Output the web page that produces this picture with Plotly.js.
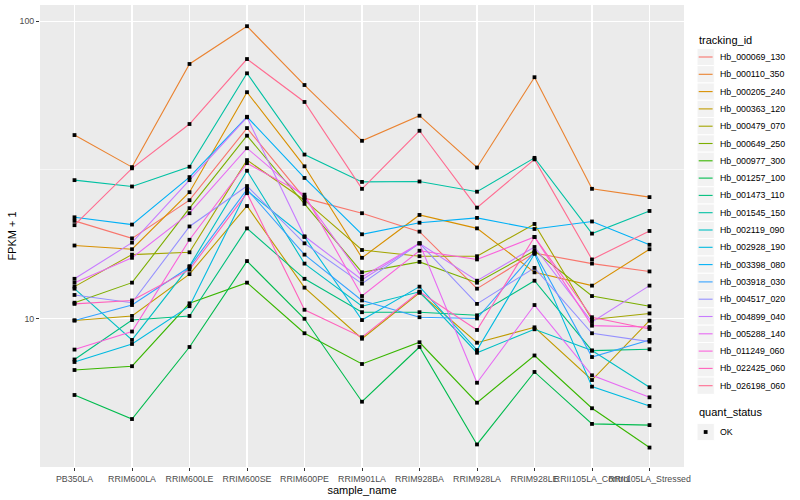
<!DOCTYPE html>
<html>
<head>
<meta charset="utf-8">
<script src="https://cdn.plot.ly/plotly-3.0.1.min.js"></script>
<style>html,body{margin:0;padding:0;background:#fff;}#chart{width:800px;height:500px;}</style>
</head>
<body>
<div id="chart"></div>
<script>
const categories = ['PB350LA','RRIM600LA','RRIM600LE','RRIM600SE','RRIM600PE','RRIM901LA','RRIM928BA','RRIM928LA','RRIM928LE','RRII105LA_Control','RRII105LA_Stressed'];

const trackingIds = ['Hb_000069_130','Hb_000110_350','Hb_000205_240','Hb_000363_120','Hb_000479_070','Hb_000649_250','Hb_000977_300','Hb_001257_100','Hb_001473_110','Hb_001545_150','Hb_002119_090','Hb_002928_190','Hb_003398_080','Hb_003918_030','Hb_004517_020','Hb_004899_040','Hb_005288_140','Hb_011249_060','Hb_022425_060','Hb_026198_060'];

const seriesColors = ['#F8766D','#EA8331','#D89000','#C09B00','#A3A500','#7CAE00','#39B600','#00BB4E','#00BF7D','#00C1A3','#00BFC4','#00BAE0','#00B0F6','#35A2FF','#9590FF','#C77CFF','#E76BF3','#FA62DB','#FF62BC','#FF6C91'];

const quantStatus = ['OK'];

// FPKM + 1 values per tracking id, in category order
const hb_000069_130 = [21.3, 18.6, 25.0, 43.7, 25.4, 22.6, 19.6, 12.6, 16.6, 15.3, 14.4];
const hb_000110_350 = [41.4, 32.3, 71.8, 96.2, 61.0, 39.6, 48.1, 32.2, 64.8, 27.3, 25.6];
const hb_000205_240 = [17.6, 17.1, 26.6, 57.7, 32.5, 16.0, 22.3, 20.1, 14.3, 12.9, 17.1];
const hb_000363_120 = [9.85, 10.2, 14.1, 23.9, 12.7, 8.55, 12.2, 8.29, 9.34, 6.21, 9.83];
const hb_000479_070 = [12.8, 16.4, 16.7, 34.1, 25.0, 17.0, 16.2, 16.2, 20.8, 9.92, 10.4];
const hb_000649_250 = [11.3, 13.2, 23.5, 41.2, 24.3, 14.3, 15.5, 13.2, 16.9, 11.9, 11.0];
const hb_000977_300 = [6.71, 6.91, 11.25, 13.2, 8.92, 7.03, 8.32, 5.21, 7.51, 4.99, 3.68];
const hb_001257_100 = [5.53, 4.59, 8.02, 15.6, 9.98, 5.25, 8.02, 3.77, 6.61, 4.42, 4.38];
const hb_001473_110 = [7.28, 9.88, 10.2, 20.1, 13.6, 10.5, 10.5, 10.25, 13.4, 7.80, 7.88];
const hb_001545_150 = [29.2, 27.8, 32.4, 66.8, 35.6, 28.8, 28.9, 26.7, 34.7, 19.3, 23.0];
const hb_002119_090 = [12.6, 8.47, 15.0, 31.4, 15.3, 11.0, 12.3, 7.67, 9.20, 7.80, 5.87];
const hb_002928_190 = [7.14, 8.21, 11.0, 26.9, 18.8, 9.88, 12.8, 7.83, 16.5, 5.90, 5.08];
const hb_003398_080 = [21.9, 20.7, 29.9, 47.7, 29.7, 19.2, 21.0, 21.8, 20.0, 21.2, 17.7];
const hb_003918_030 = [9.85, 11.1, 14.9, 27.2, 16.4, 11.5, 10.1, 10.0, 16.7, 7.42, 8.47];
const hb_004517_020 = [12.0, 11.3, 20.4, 27.9, 17.9, 13.1, 17.9, 11.2, 14.8, 8.92, 8.36];
const hb_004899_040 = [13.6, 18.0, 29.2, 47.5, 18.9, 13.5, 17.9, 13.4, 17.4, 9.73, 12.9];
const hb_005288_140 = [13.2, 16.0, 22.6, 37.4, 25.6, 13.8, 17.9, 6.08, 11.1, 6.44, 5.43];
const hb_011249_060 = [7.86, 9.04, 18.4, 33.3, 26.1, 11.9, 16.9, 15.8, 18.8, 9.46, 9.36];
const hb_022425_060 = [11.2, 11.5, 14.6, 26.4, 10.7, 8.65, 12.3, 9.15, 18.8, 10.1, 9.22];
const hb_026198_060 = [20.6, 32.0, 45.1, 74.6, 53.5, 27.3, 42.8, 23.6, 34.3, 15.8, 19.7];

const fpkm = [hb_000069_130, hb_000110_350, hb_000205_240, hb_000363_120, hb_000479_070,
  hb_000649_250, hb_000977_300, hb_001257_100, hb_001473_110, hb_001545_150,
  hb_002119_090, hb_002928_190, hb_003398_080, hb_003918_030, hb_004517_020,
  hb_004899_040, hb_005288_140, hb_011249_060, hb_022425_060, hb_026198_060];

const yTickVals = [10, 100];
const yTickText = ['10', '100'];
const yMinorVals = [3.1623, 31.623];

const traces = [];
fpkm.forEach((vals, i) => {
  traces.push({
    type: 'scatter', mode: 'lines', x: categories, y: vals,
    name: trackingIds[i], showlegend: false,
    line: {color: seriesColors[i], width: 1.1}
  });
});
fpkm.forEach((vals, i) => {
  traces.push({
    type: 'scatter', mode: 'markers', x: categories, y: vals,
    name: quantStatus[0], showlegend: false,
    marker: {symbol: 'square', size: 3.8, color: 'black'}
  });
});

// ---- ggplot-style legend drawn in the right margin (pixel layout -> paper coords)
const plotL = 40, plotR = 684, plotT = 5, plotB = 467;
const px2x = px => (px - plotL) / (plotR - plotL);
const px2y = py => (plotB - py) / (plotB - plotT);
const keyL = 697, keyW = 17.3, keyH = 17.3, textX = 717.5;
const firstKeyY = 57, keyStep = 17.3;

const shapes = [];
const annotations = [];
annotations.push({xref: 'paper', yref: 'paper', x: px2x(keyL), y: px2y(40), xanchor: 'left', yanchor: 'middle',
  text: 'tracking_id', showarrow: false, font: {size: 11, color: 'black'}});
trackingIds.forEach((id, i) => {
  const cy = firstKeyY + keyStep * i;
  shapes.push({type: 'rect', xref: 'paper', yref: 'paper', x0: px2x(keyL), x1: px2x(keyL + keyW),
    y0: px2y(cy - keyH / 2), y1: px2y(cy + keyH / 2), fillcolor: '#F2F2F2', line: {color: 'white', width: 1}});
  shapes.push({type: 'line', xref: 'paper', yref: 'paper', x0: px2x(keyL + 1.7), x1: px2x(keyL + keyW - 1.7),
    y0: px2y(cy), y1: px2y(cy), line: {color: seriesColors[i], width: 1.1}});
  annotations.push({xref: 'paper', yref: 'paper', x: px2x(textX), y: px2y(cy), xanchor: 'left', yanchor: 'middle',
    text: id, showarrow: false, font: {size: 8.8, color: 'black'}});
});
annotations.push({xref: 'paper', yref: 'paper', x: px2x(keyL), y: px2y(412), xanchor: 'left', yanchor: 'middle',
  text: 'quant_status', showarrow: false, font: {size: 11, color: 'black'}});
const okY = 432;
shapes.push({type: 'rect', xref: 'paper', yref: 'paper', x0: px2x(keyL), x1: px2x(keyL + keyW),
  y0: px2y(okY - keyH / 2), y1: px2y(okY + keyH / 2), fillcolor: '#F2F2F2', line: {color: 'white', width: 1}});
shapes.push({type: 'rect', xref: 'paper', yref: 'paper', x0: px2x(keyL + keyW / 2 - 1.9), x1: px2x(keyL + keyW / 2 + 1.9),
  y0: px2y(okY - 1.9), y1: px2y(okY + 1.9), fillcolor: 'black', line: {width: 0}});
annotations.push({xref: 'paper', yref: 'paper', x: px2x(textX), y: px2y(okY), xanchor: 'left', yanchor: 'middle',
  text: quantStatus[0], showarrow: false, font: {size: 8.8, color: 'black'}});

const layout = {
  width: 800, height: 500,
  margin: {l: plotL, r: 800 - plotR, t: plotT, b: 500 - plotB},
  paper_bgcolor: 'white', plot_bgcolor: '#EBEBEB',
  font: {family: 'Liberation Sans, Arial, sans-serif', color: '#4D4D4D', size: 9},
  showlegend: false,
  xaxis: {
    type: 'category', range: [-0.6, 10.6], tickangle: 0,
    showgrid: true, gridcolor: 'white', gridwidth: 1.1,
    ticks: 'outside', ticklen: 3, tickcolor: '#333333', tickwidth: 1,
    tickfont: {size: 8.8, color: '#4D4D4D'},
    zeroline: false, showline: false, automargin: false,
    title: {text: 'sample_name', font: {size: 11, color: 'black'}, standoff: 1}
  },
  yaxis: {
    type: 'log', range: [0.5005, 2.0545],
    tickmode: 'array', tickvals: yTickVals, ticktext: yTickText,
    showgrid: true, gridcolor: 'white', gridwidth: 1.1,
    minor: {tickmode: 'array', tickvals: yMinorVals, showgrid: true, gridcolor: 'white', gridwidth: 0.55, ticks: ''},
    ticks: 'outside', ticklen: 3, tickcolor: '#333333', tickwidth: 1,
    tickfont: {size: 8.8, color: '#4D4D4D'},
    zeroline: false, showline: false, automargin: false,
    title: {text: 'FPKM + 1', font: {size: 11, color: 'black'}, standoff: 0}
  },
  shapes: shapes,
  annotations: annotations
};

Plotly.newPlot('chart', traces, layout, {displayModeBar: false, staticPlot: true});
</script>
</body>
</html>
